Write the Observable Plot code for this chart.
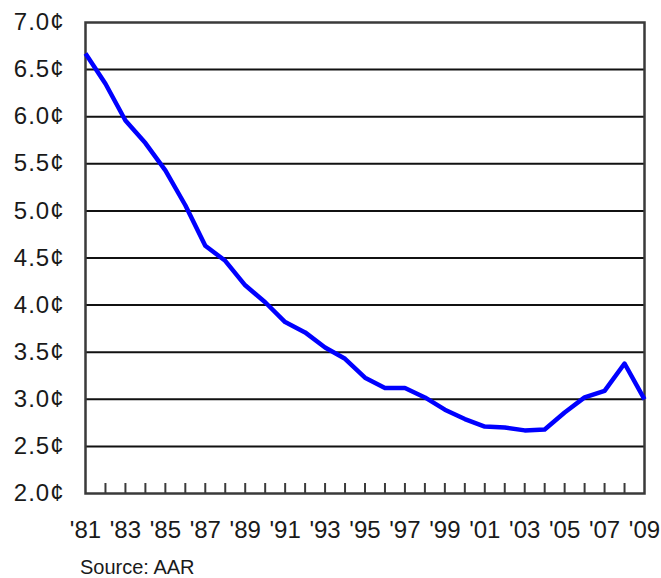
<!DOCTYPE html>
<html>
<head>
<meta charset="utf-8">
<script src="https://cdn.jsdelivr.net/npm/d3@7"></script>
<script src="https://cdn.jsdelivr.net/npm/@observablehq/plot@0.6"></script>
<style>
  html, body { margin: 0; padding: 0; background: #fff; }
  #wrap { position: relative; width: 661px; height: 578px; font-family: "Liberation Sans", Arial, sans-serif; }
  #chart svg, #chart svg * { font-size: 24px !important; font-family: "Liberation Sans", Arial, sans-serif !important; }
  #chart svg g[aria-label="y-axis tick label"] text { letter-spacing: 1px; }
  #caption { position: absolute; left: 80px; top: 557px; font-size: 20px; line-height: 20px; color: #1a1a1a; }
</style>
</head>
<body>
<div id="wrap"><div id="chart"></div><div id="caption">Source: AAR</div></div>
<script>
const years = [1981,1982,1983,1984,1985,1986,1987,1988,1989,1990,1991,1992,1993,1994,1995,1996,1997,1998,1999,2000,2001,2002,2003,2004,2005,2006,2007,2008,2009];
const cents = [6.67,6.35,5.96,5.72,5.43,5.06,4.63,4.47,4.21,4.03,3.82,3.71,3.55,3.43,3.23,3.12,3.12,3.02,2.89,2.79,2.71,2.70,2.67,2.68,2.86,3.02,3.09,3.38,3.00];
const yTicks = [2.0,2.5,3.0,3.5,4.0,4.5,5.0,5.5,6.0,6.5,7.0];
const xLabelYears = [1981,1983,1985,1987,1989,1991,1993,1995,1997,1999,2001,2003,2005,2007,2009];
const minorYears = years.slice(1, -1);

const data = years.map((y, i) => ({year: y, value: cents[i]}));

const chart = Plot.plot({
  width: 661,
  height: 548,
  marginLeft: 85,
  marginRight: 17,
  marginTop: 22,
  marginBottom: 55,
  style: {fontFamily: "'Liberation Sans', Arial, sans-serif", color: "#1a1a1a", background: "#fff"},
  x: {domain: [1981, 2009]},
  y: {domain: [2, 7]},
  marks: [
    Plot.ruleY(yTicks.slice(1, -1), {stroke: "#111", strokeWidth: 2}),
    Plot.frame({stroke: "#3a3a3a", strokeWidth: 2.5}),
    Plot.axisY({ticks: yTicks, tickSize: 0, tickPadding: 21, tickFormat: d => d.toFixed(1) + "¢", label: null}),
    Plot.axisX({ticks: minorYears, tickSize: -10, tickFormat: () => null, stroke: "#3a3a3a", strokeWidth: 2, label: null}),
    Plot.axisX({ticks: xLabelYears, tickSize: 0, tickPadding: 27, tickFormat: d => "'" + String(d).slice(2), label: null}),
    Plot.line(data, {x: "year", y: "value", stroke: "#0000ff", strokeWidth: 4.5, strokeLinejoin: "round", strokeLinecap: "butt"})
  ]
});
document.getElementById("chart").appendChild(chart);
</script>
</body>
</html>
